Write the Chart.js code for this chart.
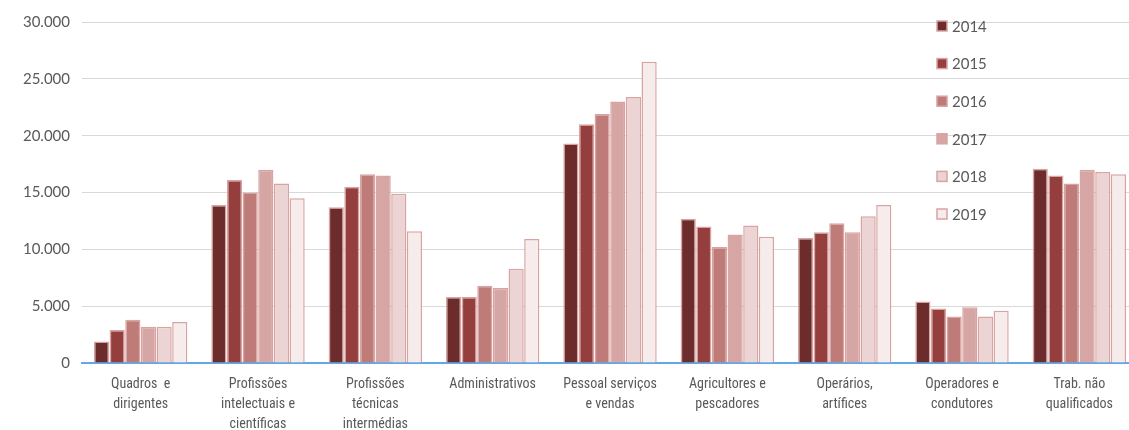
<!DOCTYPE html>
<html>
<head>
<meta charset="utf-8">
<script src="https://cdn.jsdelivr.net/npm/chart.js@4/dist/chart.umd.min.js"></script>
<style>
  html, body { margin: 0; padding: 0; background: #fff; overflow: hidden; }
  #wrap { position: relative; width: 1138px; height: 430px; }
</style>
</head>
<body>
<div id="wrap"><canvas id="barChart"></canvas></div>
<script>
const categories = [
  ["Quadros  e", "dirigentes"],
  ["Profissões", "intelectuais e", "científicas"],
  ["Profissões", "técnicas", "intermédias"],
  "Administrativos",
  ["Pessoal serviços", "e vendas"],
  ["Agricultores e", "pescadores"],
  ["Operários,", "artífices"],
  ["Operadores e", "condutores"],
  ["Trab. não", "qualificados"],
];

const years = ["2014", "2015", "2016", "2017", "2018", "2019"];

const values2014 = [1900, 13900, 13700, 5800, 19300, 12700, 11000, 5400, 17100];
const values2015 = [2900, 16100, 15500, 5800, 21000, 12000, 11500, 4800, 16500];
const values2016 = [3800, 15000, 16600, 6800, 21900, 10200, 12300, 4100, 15800];
const values2017 = [3200, 17000, 16500, 6600, 23000, 11300, 11500, 4900, 17000];
const values2018 = [3200, 15800, 14900, 8300, 23400, 12100, 12900, 4100, 16800];
const values2019 = [3600, 14500, 11600, 10900, 26500, 11100, 13900, 4600, 16600];

const yTicks = [0, 5000, 10000, 15000, 20000, 25000, 30000];

const fillColors = ["#6b2c2b", "#943f3d", "#bf7b78", "#d5a6a4", "#ebd4d3", "#f6eceb"];
const edgeColor = "#d9a3a2";

const allValues = [values2014, values2015, values2016, values2017, values2018, values2019];

function formatThousands(v) {
  return v.toString().replace(/\B(?=(\d{3})+(?!\d))/g, ".");
}

// legend sits inside the plot on the right, like the original
const floatingLegend = {
  id: "floatingLegend",
  afterDraw(chart) {
    const ctx = chart.ctx;
    ctx.save();
    ctx.font = "15px Lato, 'Open Sans', sans-serif";
    ctx.textBaseline = "middle";
    chart.data.datasets.forEach((ds, i) => {
      const y = 26 + i * 37.6;
      ctx.fillStyle = ds.backgroundColor;
      ctx.fillRect(937, y - 5, 10, 10);
      ctx.strokeStyle = edgeColor;
      ctx.lineWidth = 1.5;
      ctx.strokeRect(937, y - 5, 10, 10);
      ctx.fillStyle = "#595959";
      ctx.fillText(ds.label, 952, y + 1);
    });
    ctx.restore();
  },
};

const ctx = document.getElementById("barChart");

new Chart(ctx, {
  type: "bar",
  data: {
    labels: categories,
    datasets: years.map((year, i) => ({
      label: year,
      data: allValues[i],
      backgroundColor: fillColors[i],
      borderColor: edgeColor,
      borderWidth: 1.5,
      categoryPercentage: 0.8,
      barPercentage: 0.97,
    })),
  },
  options: {
    responsive: true,
    maintainAspectRatio: false,
    animation: false,
    layout: { padding: { top: 22, left: 0, right: 0, bottom: 0 } },
    plugins: {
      legend: { display: false },
      tooltip: { enabled: false },
    },
    scales: {
      x: {
        grid: { display: false, drawTicks: false },
        border: { color: "#62a8e5", width: 2 },
        ticks: {
          color: "#595959",
          padding: 12,
          maxRotation: 0,
          autoSkip: false,
          font: { family: "'Liberation Sans Narrow', 'Roboto Condensed', Roboto, sans-serif", size: 14, lineHeight: 1.42 },
        },
        afterFit: (scale) => { scale.height = 67; },
      },
      y: {
        min: 0,
        max: 30000,
        afterBuildTicks: (scale) => {
          scale.ticks = yTicks.map((v) => ({ value: v }));
        },
        grid: { color: "#d9d9d9", lineWidth: 1, drawTicks: false },
        border: { display: false },
        ticks: {
          color: "#595959",
          padding: 12,
          font: { family: "Lato, 'Open Sans', sans-serif", size: 15 },
          callback: (v) => formatThousands(v),
        },
        afterFit: (scale) => { scale.width = 82; },
      },
    },
  },
  plugins: [floatingLegend],
});
</script>
</body>
</html>
